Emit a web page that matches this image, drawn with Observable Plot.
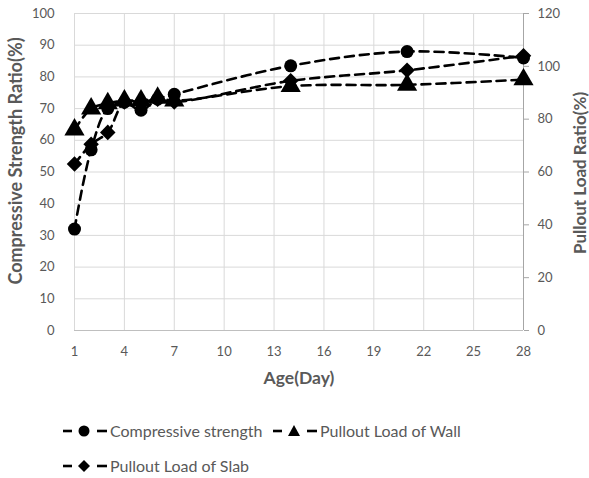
<!DOCTYPE html>
<html>
<head>
<meta charset="utf-8">
<script src="https://cdn.jsdelivr.net/npm/d3@7"></script>
<script src="https://cdn.jsdelivr.net/npm/@observablehq/plot@0.6"></script>
<style>
  body { margin: 0; background: #fff; font-family: Lato, "Open Sans", sans-serif; }
  #chart { width: 589px; }
  .legend { position: relative; height: 78px; color: #595959; font-size: 16px; }
  .item { position: absolute; display: flex; align-items: center; white-space: nowrap; }
  .item svg { margin-right: 2px; }
</style>
</head>
<body>
<div id="chart"></div>
<script>
// ---- data ----
const days = [1, 2, 3, 4, 5, 6, 7, 14, 21, 28];
const compressiveStrength = [32, 57, 70, 72, 69.5, 73, 74.5, 83.5, 88, 86];       // left axis (%)
const pulloutWall = [76, 84, 86, 87, 87, 88, 87, 92.5, 93, 95];                    // right axis (%)
const pulloutSlab = [63, 70.5, 75, 86.5, 86.5, 87.5, 86.5, 94.5, 98.5, 104];       // right axis (%)
const xTicks = [1, 4, 7, 10, 13, 16, 19, 22, 25, 28];
const leftTicks = [0, 10, 20, 30, 40, 50, 60, 70, 80, 90, 100];
const rightTicks = [0, 20, 40, 60, 80, 100, 120];
const seriesNames = ["Compressive strength", "Pullout Load of Wall", "Pullout Load of Slab"];

const rightToLeft = v => v * 100 / 120;

const comp = days.map((d, i) => ({day: d, y: compressiveStrength[i]}));
const wall = days.map((d, i) => ({day: d, y: rightToLeft(pulloutWall[i])}));
const slab = days.map((d, i) => ({day: d, y: rightToLeft(pulloutSlab[i])}));

const gray = "#595959";
const gridColor = "#d9d9d9";
const lineOpts = {x: "day", y: "y", stroke: "black", strokeWidth: 2.6, strokeDasharray: "9,6", curve: "catmull-rom"};

const chart = Plot.plot({
  width: 589,
  height: 400,
  marginLeft: 74,
  marginRight: 66,
  marginTop: 13,
  marginBottom: 70,
  style: {fontFamily: "Lato, 'Open Sans', sans-serif", fontSize: "13px", color: gray, background: "#fff"},
  x: {domain: [1, 28]},
  y: {domain: [0, 100]},
  marks: [
    Plot.gridX(xTicks, {stroke: gridColor, strokeOpacity: 1}),
    Plot.gridY(leftTicks, {stroke: gridColor, strokeOpacity: 1}),
    Plot.ruleY([0], {stroke: "#bfbfbf", strokeWidth: 1}),
    Plot.ruleX([28], {stroke: "#a6a6a6", strokeWidth: 1}),
    Plot.axisX(xTicks, {tickSize: 0, tickPadding: 16, label: null, fill: gray, fontSize: 13}),
    Plot.axisY(leftTicks, {anchor: "left", tickSize: 0, tickPadding: 20, label: null, fill: gray, fontSize: 13}),
    Plot.axisY(rightTicks.map(rightToLeft), {anchor: "right", tickSize: 5, tickPadding: 9, stroke: "#a6a6a6",
      tickFormat: d => String(Math.round(d * 1.2)), label: null, fill: gray, fontSize: 13}),
    Plot.line(comp, lineOpts),
    Plot.line(wall, lineOpts),
    Plot.line(slab, lineOpts),
    Plot.dot(comp, {x: "day", y: "y", symbol: "circle", r: 6.5, fill: "black", stroke: "none"}),
    Plot.dot(wall, {x: "day", y: "y", symbol: "triangle", r: 7.5, fill: "black", stroke: "none"}),
    Plot.dot(slab, {x: "day", y: "y", symbol: "diamond2", r: 7, fill: "black", stroke: "none"}),
    Plot.text(["Compressive Strength Ratio(%)"], {frameAnchor: "left", textAnchor: "middle", dx: -58, dy: -11, rotate: -90,
      fontWeight: "bold", fontSize: 18, fill: gray}),
    Plot.text(["Pullout Load Ratio(%)"], {frameAnchor: "right", textAnchor: "middle", dx: 57, dy: 1, rotate: -90,
      fontWeight: "bold", fontSize: 17, fill: gray}),
    Plot.text(["Age(Day)"], {frameAnchor: "bottom", dy: 53, fontWeight: "bold", fontSize: 17.5, fill: gray})
  ]
});
document.getElementById("chart").appendChild(chart);

// ---- legend (HTML below the SVG) ----
const legend = document.createElement("div");
legend.className = "legend";
const symPath = {
  circle: '<circle cx="22" cy="9" r="5.5" fill="black"/>',
  triangle: '<path d="M22,3 L28,14 L16,14 Z" fill="black"/>',
  diamond2: '<path d="M22,3 L28,9 L22,15 L16,9 Z" fill="black"/>'
};
const items = [
  {name: seriesNames[0], sym: "circle", left: 62, top: 21},
  {name: seriesNames[1], sym: "triangle", left: 272, top: 21},
  {name: seriesNames[2], sym: "diamond2", left: 62, top: 56}
];
items.forEach(it => {
  const div = document.createElement("div");
  div.className = "item";
  div.style.left = it.left + "px";
  div.style.top = it.top + "px";
  div.innerHTML = `<svg width="46" height="18"><line x1="1" y1="9" x2="10" y2="9" stroke="black" stroke-width="2.6"/>` +
    symPath[it.sym] + `<line x1="35" y1="9" x2="45" y2="9" stroke="black" stroke-width="2.6"/></svg><span>${it.name}</span>`;
  legend.appendChild(div);
});
document.body.appendChild(legend);
</script>
</body>
</html>
